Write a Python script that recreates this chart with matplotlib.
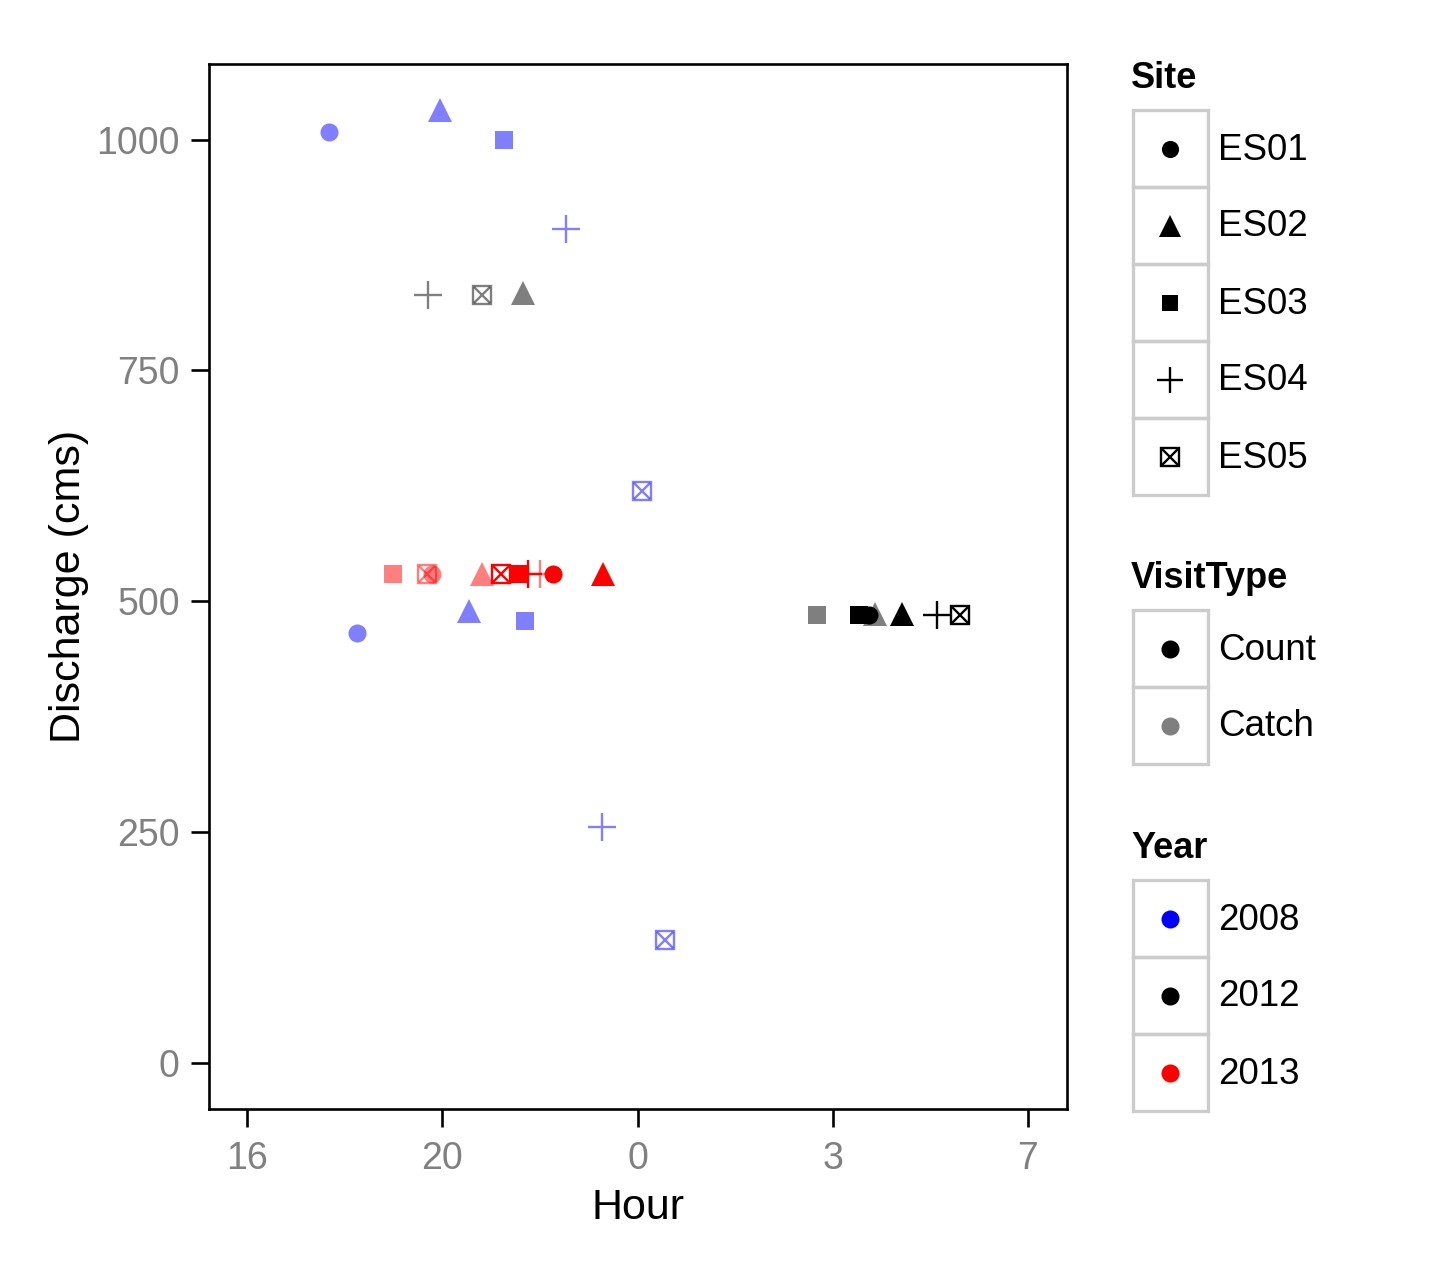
import matplotlib.pyplot as plt
from matplotlib.patches import Rectangle

plt.rcParams['font.family'] = ['Liberation Sans', 'DejaVu Sans']

# x is hour position on the axis (ticks evenly spaced: 16, 20, 0, 3, 7)
hour_ticks = [0, 1, 2, 3, 4]
hour_labels = ['16', '20', '0', '3', '7']
discharge_ticks = [0, 250, 500, 750, 1000]

sites = ['ES01', 'ES02', 'ES03', 'ES04', 'ES05']
visit_types = ['Count', 'Catch']
years = ['2008', '2012', '2013']

site = ['ES01', 'ES02', 'ES03', 'ES04', 'ES05', 'ES01', 'ES02', 'ES03', 'ES04', 'ES05',
        'ES04', 'ES05', 'ES02', 'ES03', 'ES03', 'ES01', 'ES02', 'ES02', 'ES04', 'ES05',
        'ES03', 'ES05', 'ES01', 'ES02', 'ES04', 'ES05', 'ES03', 'ES04', 'ES01', 'ES02']
visit = ['Catch'] * 10 + \
        ['Catch', 'Catch', 'Catch', 'Catch', 'Count', 'Count', 'Catch', 'Count', 'Count', 'Count'] + \
        ['Catch'] * 5 + ['Count'] * 5
year = ['2008'] * 10 + ['2012'] * 10 + ['2013'] * 10
hour = [0.42, 0.99, 1.316, 1.634, 2.023, 0.563, 1.137, 1.424, 1.818, 2.141,
        0.927, 1.204, 1.414, 2.919, 3.134, 3.186, 3.216, 3.355, 3.534, 3.652,
        0.748, 0.922, 0.947, 1.204, 1.50, 1.301, 1.388, 1.440, 1.567, 1.824]
discharge = [1008, 1032, 1000, 903, 619, 466, 490, 479, 255, 133,
             832, 832, 834, 485, 485, 485, 486, 486, 485, 485,
             529, 529, 529, 530, 529, 529, 529, 529, 529, 530]

year_colors = {'2008': '#0000FF', '2012': '#000000', '2013': '#FF0000'}
visit_alpha = {'Count': 1.0, 'Catch': 0.5}


def draw_marker(ax, x, y, s, color, alpha, scale=1.0):
    if s == 'ES01':
        ax.plot(x, y, 'o', ms=13 * scale, color=color, mew=0, alpha=alpha)
    elif s == 'ES02':
        ax.plot(x, y, '^', ms=17 * scale, color=color, mew=0, alpha=alpha)
    elif s == 'ES03':
        ax.plot(x, y, 's', ms=12.5 * scale, color=color, mew=0, alpha=alpha)
    elif s == 'ES04':
        ax.plot(x, y, '+', ms=20 * scale, color=color, mew=1.7, alpha=alpha)
    else:
        ax.plot(x, y, 's', ms=13 * scale, mfc='none', mec=color, mew=1.7, alpha=alpha)
        ax.plot(x, y, 'x', ms=12 * scale, color=color, mew=1.7, alpha=alpha)


fig = plt.figure(figsize=(14.4, 12.67), dpi=100)
ax = fig.add_axes([209 / 1440, 1 - 1109 / 1267, (1067 - 209) / 1440, (1109 - 64) / 1267])

for xv, yv, s, v, yr in zip(hour, discharge, site, visit, year):
    draw_marker(ax, xv, yv, s, year_colors[yr], visit_alpha[v])

ax.set_xlim(-0.195, 4.2)
ax.set_ylim(-50, 1082)
ax.set_xticks(hour_ticks)
ax.set_xticklabels(hour_labels)
ax.set_yticks(discharge_ticks)
ax.tick_params(length=13, width=1.9, labelsize=27, labelcolor='#808080', pad=8)
ax.tick_params(axis='x', pad=10)
for sp in ax.spines.values():
    sp.set_linewidth(1.9)
ax.set_xlabel('Hour', fontsize=31, labelpad=8)
ax.set_ylabel('Discharge (cms)', fontsize=31, labelpad=5)

# legends drawn in pixel coordinates
lg = fig.add_axes([0, 0, 1, 1], facecolor='none')
lg.set_xlim(0, 1440)
lg.set_ylim(1267, 0)
lg.axis('off')


def legend_block(title, title_y, labels, top, draw_key):
    lg.text(1131, title_y, title, fontsize=26, fontweight='bold', va='center', ha='left')
    for i, lab in enumerate(labels):
        y0 = top + i * 77
        lg.add_patch(Rectangle((1133, y0), 75, 77, fill=False, ec='#CCCCCC', lw=2.4))
        draw_key(1170, y0 + 38.5, lab)
        lg.text(1218, y0 + 40, lab, fontsize=26.5, va='center', ha='left')


legend_block('Site', 79, sites, 110,
             lambda x, y, lab: draw_marker(lg, x, y, lab, 'black', 1.0, 0.95))
legend_block('VisitType', 579, visit_types, 610,
             lambda x, y, lab: lg.plot(x, y, 'o', ms=13, color='black', mew=0,
                                       alpha=visit_alpha[lab]))
legend_block('Year', 849, years, 880,
             lambda x, y, lab: lg.plot(x, y, 'o', ms=13, color=year_colors[lab], mew=0))

fig.savefig('out.png', dpi=100)
